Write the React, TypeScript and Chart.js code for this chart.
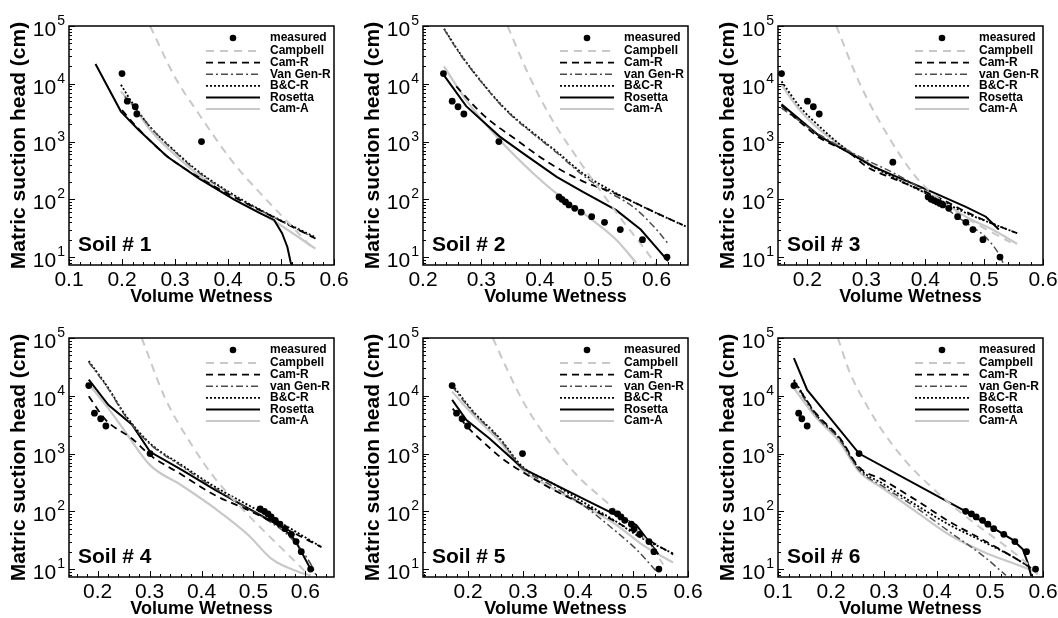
import React, { useEffect, useRef } from 'react';
import { Chart, registerables } from 'chart.js';

Chart.register(...registerables);

const FONT = "'Liberation Sans', Arial, Helvetica, sans-serif";

// ---------- Data (volume wetness, matric suction head in cm) ----------
const SOIL_NAMES = ['Soil # 1', 'Soil # 2', 'Soil # 3', 'Soil # 4', 'Soil # 5', 'Soil # 6'];
const SERIES_LABELS = ['measured', 'Campbell', 'Cam-R', 'van Gen-R', 'B&C-R', 'Rosetta', 'Cam-A'];
const VG_LABEL_SOIL1 = 'Van Gen-R';

const X_MIN = [0.1, 0.2, 0.15, 0.145, 0.118, 0.1];
const X_MAX = [0.6, 0.654, 0.6, 0.655, 0.6, 0.6];
const X_TICKS_A = [0.1, 0.2, 0.3, 0.4, 0.5, 0.6];
const X_TICKS_B = [0.2, 0.3, 0.4, 0.5, 0.6];
const Y_TICKS = [10, 100, 1000, 10000, 100000];
const Y_MIN = 7.3;
const Y_MAX = 100000;

// Soil 1
const S1_MEASURED = [[0.2, 15000], [0.21, 5000], [0.225, 4000], [0.228, 3000], [0.35, 1000]];
const S1_CAMPBELL = [[0.253, 100000], [0.3, 13000], [0.345, 3000], [0.411, 420], [0.474, 95], [0.518, 36], [0.56, 14]];
const S1_CAM_R = [[0.2, 3500], [0.23, 1700], [0.285, 560], [0.345, 240], [0.411, 110], [0.474, 56], [0.565, 21]];
const S1_VAN_GEN_R = [[0.205, 6000], [0.225, 3800], [0.253, 1800], [0.297, 700], [0.345, 290], [0.411, 115], [0.474, 56], [0.565, 21]];
const S1_BC_R = [[0.198, 9600], [0.222, 4300], [0.253, 1800], [0.297, 720], [0.345, 300], [0.411, 119], [0.474, 57], [0.565, 22]];
const S1_ROSETTA = [[0.15, 22000], [0.198, 3300], [0.231, 1600], [0.285, 550], [0.345, 230], [0.411, 100], [0.461, 57], [0.487, 44], [0.502, 26], [0.512, 15], [0.518, 8.3], [0.52, 7.3]];
const S1_CAM_A = [[0.198, 7400], [0.222, 4000], [0.253, 1600], [0.297, 620], [0.345, 260], [0.411, 100], [0.474, 50], [0.565, 14]];

// Soil 2
const S2_MEASURED = [[0.235, 15000], [0.25, 5000], [0.26, 4000], [0.27, 3000], [0.33, 1000], [0.433, 110], [0.438, 100], [0.444, 90], [0.45, 80], [0.46, 70], [0.471, 60], [0.489, 50], [0.511, 40], [0.538, 30], [0.576, 20], [0.618, 10]];
const S2_CAMPBELL = [[0.345, 100000], [0.38, 15000], [0.42, 2500], [0.46, 600], [0.5, 160], [0.54, 45], [0.575, 16], [0.6, 7.3]];
const S2_CAM_R = [[0.257, 9000], [0.303, 2900], [0.36, 1070], [0.417, 420], [0.474, 205], [0.53, 125], [0.6, 58], [0.645, 36]];
const S2_VAN_GEN_R = [[0.236, 88000], [0.263, 33000], [0.303, 9800], [0.343, 3400], [0.389, 1350], [0.429, 640], [0.474, 260], [0.509, 150], [0.56, 74], [0.6, 30], [0.62, 17]];
const S2_BC_R = [[0.236, 90000], [0.263, 34000], [0.303, 10000], [0.343, 3500], [0.389, 1400], [0.429, 670], [0.474, 280], [0.531, 127], [0.589, 65], [0.65, 34]];
const S2_ROSETTA = [[0.236, 14000], [0.274, 4100], [0.331, 1230], [0.371, 630], [0.429, 245], [0.474, 135], [0.531, 65], [0.573, 30], [0.62, 8.5]];
const S2_CAM_A = [[0.236, 20000], [0.274, 5200], [0.331, 1070], [0.389, 280], [0.429, 126], [0.474, 58], [0.531, 20], [0.565, 8]];

// Soil 3
const S3_MEASURED = [[0.156, 15000], [0.2, 5000], [0.21, 4000], [0.22, 3000], [0.345, 440], [0.405, 110], [0.41, 100], [0.415, 95], [0.42, 90], [0.425, 85], [0.43, 80], [0.44, 70], [0.455, 50], [0.469, 40], [0.481, 30], [0.498, 20], [0.527, 10]];
const S3_CAMPBELL = [[0.249, 100000], [0.289, 10000], [0.334, 1400], [0.384, 245], [0.441, 74], [0.497, 33], [0.545, 18]];
const S3_CAM_R = [[0.156, 4200], [0.187, 2200], [0.221, 1150], [0.272, 630], [0.3, 370], [0.345, 230], [0.379, 166], [0.424, 105], [0.469, 61], [0.514, 38], [0.556, 26]];
const S3_VAN_GEN_R = [[0.156, 3800], [0.221, 1300], [0.3, 480], [0.345, 290], [0.413, 112], [0.446, 58], [0.48, 33], [0.503, 22], [0.528, 10], [0.532, 8]];
const S3_BC_R = [[0.156, 11000], [0.187, 4000], [0.221, 1800], [0.26, 810], [0.3, 420], [0.339, 262], [0.384, 155], [0.424, 98], [0.469, 58], [0.514, 38], [0.556, 26]];
const S3_ROSETTA = [[0.156, 4400], [0.187, 2400], [0.221, 1230], [0.272, 630], [0.311, 372], [0.345, 263], [0.384, 178], [0.424, 118], [0.469, 74], [0.503, 50], [0.525, 30]];
const S3_CAM_A = [[0.156, 9600], [0.187, 3500], [0.221, 1590], [0.272, 670], [0.345, 245], [0.424, 98], [0.469, 50], [0.514, 30], [0.556, 17]];

// Soil 4
const S4_MEASURED = [[0.183, 15000], [0.194, 5000], [0.206, 4000], [0.216, 3000], [0.301, 1000], [0.513, 110], [0.521, 100], [0.528, 90], [0.534, 80], [0.542, 70], [0.551, 60], [0.561, 50], [0.573, 40], [0.582, 30], [0.592, 20], [0.61, 10]];
const S4_CAMPBELL = [[0.285, 100000], [0.33, 9100], [0.381, 1420], [0.426, 370], [0.471, 130], [0.522, 44], [0.561, 20], [0.6, 9]];
const S4_CAM_R = [[0.183, 9800], [0.216, 3800], [0.266, 1820], [0.301, 940], [0.362, 430], [0.426, 190], [0.49, 105], [0.554, 54], [0.631, 24]];
const S4_VAN_GEN_R = [[0.183, 38000], [0.221, 13000], [0.253, 4500], [0.301, 1450], [0.362, 600], [0.426, 250], [0.49, 110], [0.522, 75], [0.573, 34], [0.612, 11.5], [0.62, 8]];
const S4_BC_R = [[0.183, 40000], [0.221, 13500], [0.253, 4700], [0.301, 1500], [0.362, 630], [0.426, 265], [0.49, 128], [0.554, 62], [0.631, 24]];
const S4_ROSETTA = [[0.183, 19000], [0.221, 6900], [0.266, 3200], [0.301, 1070], [0.362, 520], [0.426, 235], [0.49, 112], [0.554, 54], [0.58, 32], [0.61, 10]];
const S4_CAM_A = [[0.183, 16000], [0.221, 6000], [0.253, 2400], [0.301, 630], [0.362, 280], [0.426, 112], [0.49, 39], [0.535, 15], [0.586, 9], [0.61, 7.8]];

// Soil 5
const S5_MEASURED = [[0.171, 15000], [0.179, 5000], [0.189, 4000], [0.199, 3000], [0.299, 1000], [0.462, 100], [0.472, 90], [0.478, 80], [0.485, 70], [0.497, 60], [0.502, 50], [0.512, 40], [0.529, 30], [0.538, 20], [0.547, 10]];
const S5_CAMPBELL = [[0.245, 100000], [0.27, 30000], [0.3, 8000], [0.35, 1500], [0.4, 400], [0.45, 150], [0.5, 55], [0.53, 27], [0.555, 12]];
const S5_CAM_R = [[0.172, 6000], [0.2, 2800], [0.227, 1600], [0.26, 850], [0.299, 480], [0.35, 250], [0.41, 130], [0.47, 65], [0.51, 40], [0.573, 18]];
const S5_VAN_GEN_R = [[0.171, 14500], [0.209, 5200], [0.258, 1750], [0.299, 560], [0.349, 290], [0.409, 128], [0.47, 44], [0.506, 22], [0.543, 9]];
const S5_BC_R = [[0.171, 15500], [0.209, 5400], [0.258, 1820], [0.299, 590], [0.349, 325], [0.409, 145], [0.47, 66], [0.506, 39], [0.573, 18.6]];
const S5_ROSETTA = [[0.171, 8500], [0.197, 3800], [0.239, 1820], [0.3, 550], [0.409, 166], [0.506, 58], [0.543, 20], [0.546, 18]];
const S5_CAM_A = [[0.171, 11800], [0.209, 4700], [0.258, 1600], [0.299, 520], [0.349, 265], [0.409, 128], [0.47, 58], [0.518, 26], [0.573, 13]];

// Soil 6
const S6_MEASURED = [[0.13, 15000], [0.139, 5000], [0.145, 4000], [0.155, 3000], [0.253, 1000], [0.454, 100], [0.465, 90], [0.474, 80], [0.486, 70], [0.496, 60], [0.507, 50], [0.526, 40], [0.547, 30], [0.569, 20], [0.586, 10]];
const S6_CAMPBELL = [[0.213, 100000], [0.235, 26000], [0.267, 6900], [0.298, 2400], [0.342, 720], [0.392, 250], [0.443, 98], [0.493, 44], [0.543, 20], [0.581, 10], [0.59, 8]];
const S6_CAM_R = [[0.13, 18000], [0.172, 4900], [0.216, 1900], [0.253, 580], [0.298, 350], [0.361, 155], [0.424, 66], [0.487, 32], [0.55, 15], [0.59, 9]];
const S6_VAN_GEN_R = [[0.13, 17000], [0.172, 4500], [0.216, 1750], [0.253, 520], [0.298, 270], [0.361, 115], [0.424, 44], [0.487, 17], [0.53, 7.8]];
const S6_BC_R = [[0.13, 19000], [0.172, 4700], [0.216, 1820], [0.253, 550], [0.298, 300], [0.361, 128], [0.424, 58], [0.487, 30], [0.55, 15], [0.587, 9]];
const S6_ROSETTA = [[0.13, 45000], [0.155, 12600], [0.253, 1000], [0.454, 100], [0.543, 32], [0.562, 22], [0.571, 13], [0.578, 7.5]];
const S6_CAM_A = [[0.13, 13500], [0.172, 4200], [0.216, 1600], [0.253, 490], [0.298, 250], [0.361, 98], [0.424, 39], [0.487, 20], [0.55, 12], [0.587, 9]];

const SOIL_SERIES = [
  [S1_MEASURED, S1_CAMPBELL, S1_CAM_R, S1_VAN_GEN_R, S1_BC_R, S1_ROSETTA, S1_CAM_A],
  [S2_MEASURED, S2_CAMPBELL, S2_CAM_R, S2_VAN_GEN_R, S2_BC_R, S2_ROSETTA, S2_CAM_A],
  [S3_MEASURED, S3_CAMPBELL, S3_CAM_R, S3_VAN_GEN_R, S3_BC_R, S3_ROSETTA, S3_CAM_A],
  [S4_MEASURED, S4_CAMPBELL, S4_CAM_R, S4_VAN_GEN_R, S4_BC_R, S4_ROSETTA, S4_CAM_A],
  [S5_MEASURED, S5_CAMPBELL, S5_CAM_R, S5_VAN_GEN_R, S5_BC_R, S5_ROSETTA, S5_CAM_A],
  [S6_MEASURED, S6_CAMPBELL, S6_CAM_R, S6_VAN_GEN_R, S6_BC_R, S6_ROSETTA, S6_CAM_A],
];

// ---------- Styles / layout ----------
const STYLES = [
  { color: '#000000', dash: [], width: 0 },
  { color: '#c8c8c8', dash: [8, 6], width: 2 },
  { color: '#000000', dash: [7, 5], width: 1.8 },
  { color: '#4d4d4d', dash: [7, 3, 2, 3], width: 1.5 },
  { color: '#000000', dash: [2, 2], width: 1.8 },
  { color: '#000000', dash: [], width: 2 },
  { color: '#c8c8c8', dash: [], width: 2.2 },
];

const PLOT_LEFT = [69, 423, 778];
const PLOT_TOP = [26, 338];
const PLOT_W = 265;
const PLOT_H = 239;
const AX_W = 66;
const AX_H = 42;
const PAD_T = 22;
const PAD_R = 22;
const CW = AX_W + PLOT_W + PAD_R;
const CH = PAD_T + PLOT_H + AX_H;
const SUP = ['\u2070', '\u00b9', '\u00b2', '\u00b3', '\u2074', '\u2075'];

function decorPlugin(idx: number) {
  return {
    id: 'decor' + idx,
    afterDatasetsDraw(chart: any) {
      const { ctx, chartArea } = chart;
      const { left, right, top, bottom } = chartArea;
      ctx.save();
      // legend
      ctx.font = `bold 12px ${FONT}`;
      ctx.textBaseline = 'middle';
      ctx.textAlign = 'left';
      chart.data.datasets.forEach((d: any, i: number) => {
        const y = top + (i === 0 ? 12 : 25 + 11.6 * (i - 1));
        const x0 = right - 128;
        const x1 = right - 74;
        if (i === 0) {
          ctx.fillStyle = '#000';
          ctx.beginPath();
          ctx.arc((x0 + x1) / 2, y, 3.3, 0, Math.PI * 2);
          ctx.fill();
        } else {
          ctx.strokeStyle = d.borderColor;
          ctx.lineWidth = d.borderWidth;
          ctx.setLineDash(d.borderDash || []);
          ctx.beginPath();
          ctx.moveTo(x0, y);
          ctx.lineTo(x1, y);
          ctx.stroke();
          ctx.setLineDash([]);
        }
        ctx.fillStyle = '#000';
        ctx.fillText(d.label, right - 64, y);
      });
      // soil label
      ctx.font = `bold 21px ${FONT}`;
      ctx.fillText(SOIL_NAMES[idx], left + 9, bottom - 20);
      ctx.restore();
    },
    afterDraw(chart: any) {
      const { ctx, chartArea, scales } = chart;
      const { left, right, top, bottom } = chartArea;
      const xs = scales.x;
      const ys = scales.y;
      ctx.save();
      ctx.strokeStyle = '#000';
      ctx.lineWidth = 1.5;
      ctx.setLineDash([]);
      ctx.strokeRect(left, top, right - left, bottom - top);
      ctx.lineWidth = 1;
      ctx.beginPath();
      const kMin = Math.ceil(xs.min * 50 - 1e-6);
      const kMax = Math.floor(xs.max * 50 + 1e-6);
      for (let k = kMin; k <= kMax; k++) {
        const px = Math.round(xs.getPixelForValue(k / 50)) + 0.5;
        const len = k % 5 === 0 ? 6 : 3;
        ctx.moveTo(px, bottom);
        ctx.lineTo(px, bottom - len);
      }
      for (let d = 0; d <= 5; d++) {
        for (let m = 1; m <= 9; m++) {
          const v = m * Math.pow(10, d);
          if (v < ys.min || v > ys.max) continue;
          const py = Math.round(ys.getPixelForValue(v)) + 0.5;
          const len = m === 1 ? 6 : 3;
          ctx.moveTo(left, py);
          ctx.lineTo(left + len, py);
        }
      }
      ctx.stroke();
      // y tick labels 10^n
      ctx.fillStyle = '#000';
      Y_TICKS.forEach((v) => {
        const e = Math.round(Math.log10(v));
        const py = ys.getPixelForValue(v);
        ctx.font = `14px ${FONT}`;
        const ew = ctx.measureText(SUP[e] ? String(e) : '').width;
        ctx.font = `21px ${FONT}`;
        const bw = ctx.measureText('10').width;
        const xr = left - 4;
        ctx.textAlign = 'left';
        ctx.textBaseline = 'middle';
        ctx.fillText('10', xr - ew - bw - 1, py + 4);
        ctx.font = `14px ${FONT}`;
        ctx.textBaseline = 'alphabetic';
        ctx.fillText(String(e), xr - ew, py - 1);
      });
      ctx.restore();
    },
  };
}

function buildConfig(idx: number): any {
  const series = SOIL_SERIES[idx];
  const datasets = series.map((arr, i) => {
    const st = STYLES[i];
    const label = i === 3 && idx === 0 ? VG_LABEL_SOIL1 : SERIES_LABELS[i];
    const data = arr.map(([x, y]) => ({ x, y }));
    if (i === 0) {
      return {
        label,
        data,
        showLine: false,
        pointRadius: 3.4,
        pointBackgroundColor: '#000',
        pointBorderColor: '#000',
        pointBorderWidth: 0,
        borderColor: '#000',
      };
    }
    return {
      label,
      data,
      showLine: true,
      borderColor: st.color,
      borderDash: st.dash,
      borderWidth: st.width,
      pointRadius: 0,
      fill: false,
      tension: 0,
      cubicInterpolationMode: i === 5 ? 'default' : 'monotone',
    };
  });
  const xTicks = idx === 0 || idx === 5 ? X_TICKS_A : X_TICKS_B;
  return {
    type: 'scatter',
    data: { datasets },
    options: {
      responsive: false,
      animation: false,
      events: [],
      layout: { padding: { top: PAD_T, right: PAD_R, left: 0, bottom: 0 } },
      plugins: { legend: { display: false }, tooltip: { enabled: false } },
      scales: {
        x: {
          type: 'linear',
          position: 'bottom',
          min: X_MIN[idx],
          max: X_MAX[idx],
          afterBuildTicks: (s: any) => {
            s.ticks = xTicks.map((v) => ({ value: v }));
          },
          afterFit: (s: any) => {
            s.height = AX_H;
          },
          grid: { display: false, drawTicks: false },
          border: { display: false },
          ticks: {
            autoSkip: false,
            maxRotation: 0,
            padding: 3,
            color: '#000',
            font: { family: FONT, size: 21 },
            callback: (v: any) => Number(v).toFixed(1),
          },
          title: {
            display: true,
            text: 'Volume Wetness',
            color: '#000',
            font: { family: FONT, size: 18, weight: 'bold', lineHeight: 1 },
            padding: { top: 0, bottom: 1 },
          },
        },
        y: {
          type: 'logarithmic',
          position: 'left',
          min: Y_MIN,
          max: Y_MAX,
          afterBuildTicks: (s: any) => {
            s.ticks = Y_TICKS.map((v) => ({ value: v }));
          },
          afterFit: (s: any) => {
            s.width = AX_W;
          },
          grid: { display: false, drawTicks: false },
          border: { display: false },
          ticks: { display: false },
          title: {
            display: true,
            text: 'Matric suction head (cm)',
            color: '#000',
            font: { family: FONT, size: 21, weight: 'bold', lineHeight: 1 },
            padding: { top: 6, bottom: 0 },
          },
        },
      },
    },
    plugins: [decorPlugin(idx)],
  };
}

function Panel({ idx }: { idx: number }) {
  const ref = useRef<HTMLCanvasElement | null>(null);
  useEffect(() => {
    if (!ref.current) return;
    const chart = new Chart(ref.current, buildConfig(idx));
    return () => chart.destroy();
  }, [idx]);
  const col = idx % 3;
  const row = Math.floor(idx / 3);
  const left = PLOT_LEFT[col] - AX_W;
  const top = PLOT_TOP[row] - PAD_T;
  return (
    <canvas
      ref={ref}
      width={CW}
      height={CH}
      style={{ position: 'absolute', left, top, width: CW, height: CH }}
    />
  );
}

export default function App() {
  return (
    <div style={{ position: 'fixed', left: 0, top: 0, width: 1058, height: 618, background: '#fff', overflow: 'hidden' }}>
      {[0, 1, 2, 3, 4, 5].map((i) => (
        <Panel key={i} idx={i} />
      ))}
    </div>
  );
}
